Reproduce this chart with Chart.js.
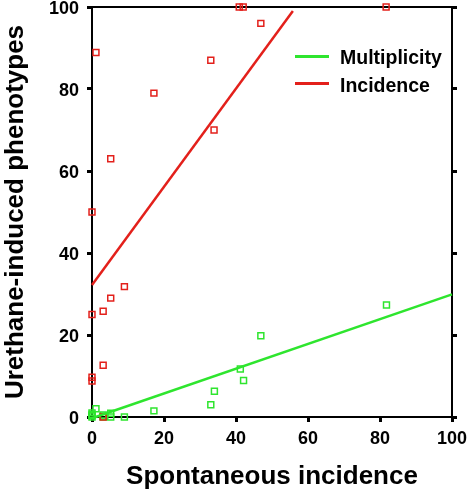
<!DOCTYPE html>
<html><head><meta charset="utf-8">
<script src="https://cdn.jsdelivr.net/npm/chart.js@4.4.0/dist/chart.umd.min.js"></script>
<style>
html,body{margin:0;padding:0;background:#fff;}
#wrap{position:relative;width:470px;height:494px;}
canvas{display:block;}
.leg{position:absolute;left:340px;font:bold 19.5px 'Liberation Sans',Arial,sans-serif;color:#000;line-height:20px;white-space:nowrap;}
.sw{position:absolute;left:295px;width:34px;height:3px;}
</style></head>
<body>
<div id="wrap">
<canvas id="c" width="470" height="494"></canvas>
<div class="sw" style="top:55px;background:#2ee52e"></div><div class="leg" style="top:47px">Multiplicity</div>
<div class="sw" style="top:82px;background:#e3201b"></div><div class="leg" style="top:75px">Incidence</div>
</div>
<script>
// Data
const incidenceX = [0, 0, 0, 0, 1.1, 3.1, 3.1, 3.1, 5.2, 5.2, 9, 17.2, 33, 33.9, 40.9, 42, 46.9, 81.7];
const incidenceY = [50, 25, 9.7, 8.8, 88.9, 25.8, 12.6, 0, 63, 29, 31.8, 79, 87, 70, 100, 100, 96, 100];
const multiplicityX = [0, 0, 0, 0, 1.1, 3.1, 3.1, 3.1, 5.2, 5.2, 9, 17.2, 33, 34, 41.2, 42.1, 46.9, 81.8];
const multiplicityY = [0, 0.3, 0.6, 1.0, 2, 0, 0.2, 0.5, 0.9, 0, 0, 1.5, 3, 6.3, 11.7, 8.9, 19.8, 27.3];
// Regression line end points
const incidenceFitX = [0, 55.8];
const incidenceFitY = [32.2, 99.0];
const multiplicityFitX = [0, 100];
const multiplicityFitY = [-0.3, 29.9];
const xTicks = [0, 20, 40, 60, 80, 100];
const yTicks = [0, 20, 40, 60, 80, 100];

const RED = '#e3201b', GREEN = '#2ee52e';
const pts = (xs, ys) => xs.map((x, i) => ({x, y: ys[i]}));
const FONT = "'Liberation Sans', Arial, sans-serif";
Chart.defaults.font.family = FONT;
Chart.defaults.color = '#000';

const tickGrid = {display: true, drawOnChartArea: false, drawTicks: true, tickLength: 5, tickWidth: 3, tickColor: '#000'};
const border = {display: true, color: '#000', width: 2};
const noPad = s => { s.paddingTop = 0; s.paddingBottom = 0; s.paddingLeft = 0; s.paddingRight = 0; };

new Chart(document.getElementById('c'), {
  type: 'scatter',
  data: {
    datasets: [
      {label: 'Incidence fit', type: 'line', data: pts(incidenceFitX, incidenceFitY), borderColor: RED, borderWidth: 2.5, pointRadius: 0, fill: false, clip: false, order: 1},
      {label: 'Multiplicity fit', type: 'line', data: pts(multiplicityFitX, multiplicityFitY), borderColor: GREEN, borderWidth: 2.5, pointRadius: 0, fill: false, clip: false, order: 1},
      {label: 'Incidence', data: pts(incidenceX, incidenceY), pointStyle: 'rect', pointRadius: 4.2, borderColor: RED, backgroundColor: 'rgba(255,255,255,0)', borderWidth: 1.5, clip: false, order: 2},
      {label: 'Multiplicity', data: pts(multiplicityX, multiplicityY), pointStyle: 'rect', pointRadius: 4.2, borderColor: GREEN, backgroundColor: 'rgba(255,255,255,0)', borderWidth: 1.5, clip: false, order: 3}
    ]
  },
  options: {
    responsive: false, animation: false, devicePixelRatio: 1,
    layout: {padding: 0, autoPadding: false},
    plugins: {legend: {display: false}, tooltip: {enabled: false}},
    scales: {
      x: {
        type: 'linear', position: 'bottom', min: 0, max: 100,
        afterBuildTicks: s => { s.ticks = xTicks.map(v => ({value: v})); },
        ticks: {font: {size: 18, weight: 'bold'}, color: '#000', padding: 6, maxRotation: 0},
        grid: tickGrid, border: border,
        title: {display: true, text: 'Spontaneous incidence', font: {size: 26, weight: 'bold', lineHeight: 1}, color: '#000', padding: {top: 0, bottom: 4}},
        afterFit: s => { s.height = 77; noPad(s); }
      },
      x2: {
        type: 'linear', axis: 'x', position: 'top', min: 0, max: 100,
        ticks: {display: false}, grid: {display: true, drawOnChartArea: false, drawTicks: false}, border: border,
        afterFit: s => { s.height = 7; noPad(s); }
      },
      y: {
        type: 'linear', position: 'left', min: 0, max: 100,
        afterBuildTicks: s => { s.ticks = yTicks.map(v => ({value: v})); },
        ticks: {font: {size: 18, weight: 'bold'}, color: '#000', padding: 8, labelOffset: 2.5},
        grid: tickGrid, border: border,
        title: {display: true, text: 'Urethane-induced phenotypes', font: {size: 26, weight: 'bold', lineHeight: 1}, color: '#000', padding: {top: 3, bottom: 0}},
        afterFit: s => { s.width = 92; noPad(s); }
      },
      y2: {
        type: 'linear', axis: 'y', position: 'right', min: 0, max: 100,
        afterBuildTicks: s => { s.ticks = yTicks.map(v => ({value: v})); },
        ticks: {display: false},
        grid: tickGrid, border: border,
        afterFit: s => { s.width = 18; noPad(s); }
      }
    }
  }
});
</script>
</body></html>
